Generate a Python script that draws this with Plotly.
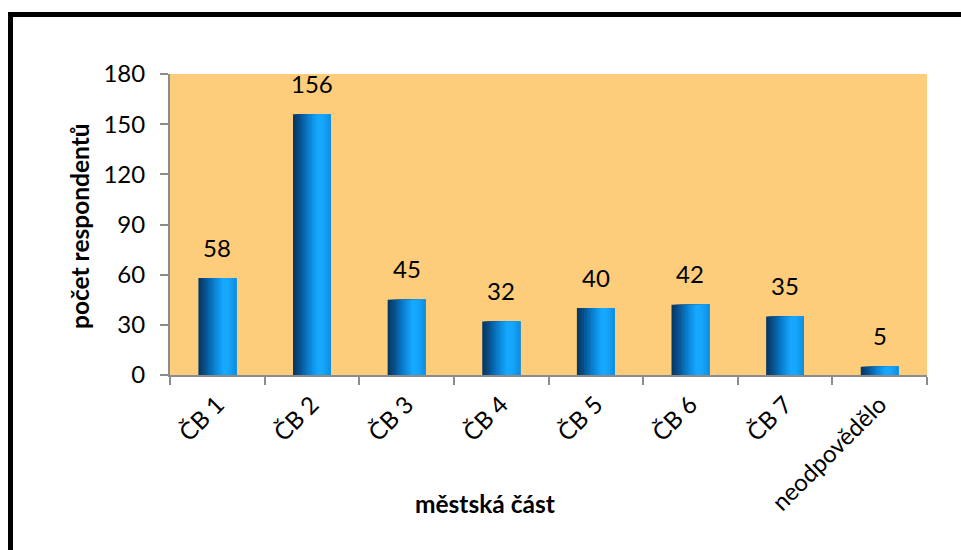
import plotly.graph_objects as go

categories = ["ČB 1", "ČB 2", "ČB 3", "ČB 4", "ČB 5", "ČB 6", "ČB 7", "neodpovědělo"]
values = [58, 156, 45, 32, 40, 42, 35, 5]
y_ticks = [0, 30, 60, 90, 120, 150, 180]

FONT = "Lato, 'Open Sans', sans-serif"
BAR_W = 0.40
N_SLICES = 16

# gradient stops (position across bar, rgb)
stops = [(0.0, (6, 52, 92)), (0.18, (8, 80, 140)), (0.4, (10, 125, 205)),
         (0.65, (22, 168, 255)), (0.8, (22, 166, 252)), (1.0, (14, 140, 222))]

def grad(t):
    for (p0, c0), (p1, c1) in zip(stops[:-1], stops[1:]):
        if p0 <= t <= p1:
            f = (t - p0) / (p1 - p0)
            c = [round(a + (b - a) * f) for a, b in zip(c0, c1)]
            return f"rgb({c[0]},{c[1]},{c[2]})"
    c = stops[-1][1]
    return f"rgb({c[0]},{c[1]},{c[2]})"

fig = go.Figure()
for i in range(N_SLICES):
    start = -BAR_W / 2 + i * BAR_W / N_SLICES
    fig.add_trace(go.Bar(
        x=categories, y=values,
        offset=start, width=BAR_W / 2 - start,
        marker=dict(color=grad((i + 0.5) / N_SLICES), line=dict(width=0)),
        hoverinfo="skip", showlegend=False,
    ))

for c, v in zip(categories, values):
    fig.add_annotation(x=c, y=v, text=str(v), showarrow=False, yshift=31,
                       font=dict(family=FONT, size=24, color="black"))

L, R, T, B = 170, 34, 74, 175
pw, ph = 961 - L - R, 550 - T - B

def px(x):
    return (x - L) / pw

def py(y):
    return (550 - B - y) / ph

fig.add_annotation(x=px(485), y=py(503), xref="paper", yref="paper",
                   xanchor="center", yanchor="middle",
                   text="<b>městská část</b>", showarrow=False,
                   font=dict(family=FONT, size=24.5, color="black"))
fig.add_annotation(x=px(79), y=py(226), xref="paper", yref="paper",
                   xanchor="center", yanchor="middle",
                   text="<b>počet respondentů</b>", showarrow=False, textangle=-90,
                   font=dict(family=FONT, size=24.5, color="black"))

fig.add_shape(type="rect", xref="paper", yref="paper",
              x0=px(10.5), x1=px(1010), y0=py(600), y1=py(14.5),
              line=dict(color="black", width=5), fillcolor="rgba(0,0,0,0)", layer="above")

fig.update_layout(
    width=961, height=550,
    margin=dict(l=L, r=R, t=T, b=B),
    paper_bgcolor="white",
    plot_bgcolor="#FDCD7B",
    barmode="overlay",
    font=dict(family=FONT, size=24, color="black"),
    xaxis=dict(
        type="category", tickangle=-45, tickson="boundaries",
        ticks="outside", ticklen=8, tickwidth=2, tickcolor="#8c8c8c",
        showline=True, linecolor="#8c8c8c", linewidth=2,
        showgrid=False, tickfont=dict(family=FONT, size=24),
        range=[-0.5, 7.5], ticklabelstandoff=4,
    ),
    yaxis=dict(
        range=[0, 180], tickvals=y_ticks,
        ticks="outside", ticklen=8, tickwidth=2, tickcolor="#8c8c8c",
        showline=True, linecolor="#8c8c8c", linewidth=2,
        showgrid=False, zeroline=False, tickfont=dict(family=FONT, size=24),
        ticklabelstandoff=10,
    ),
)

fig.write_html(
    "out.html",
    config={"displayModeBar": False},
    post_script="document.body.style.margin='0';document.body.style.overflow='hidden';",
)
